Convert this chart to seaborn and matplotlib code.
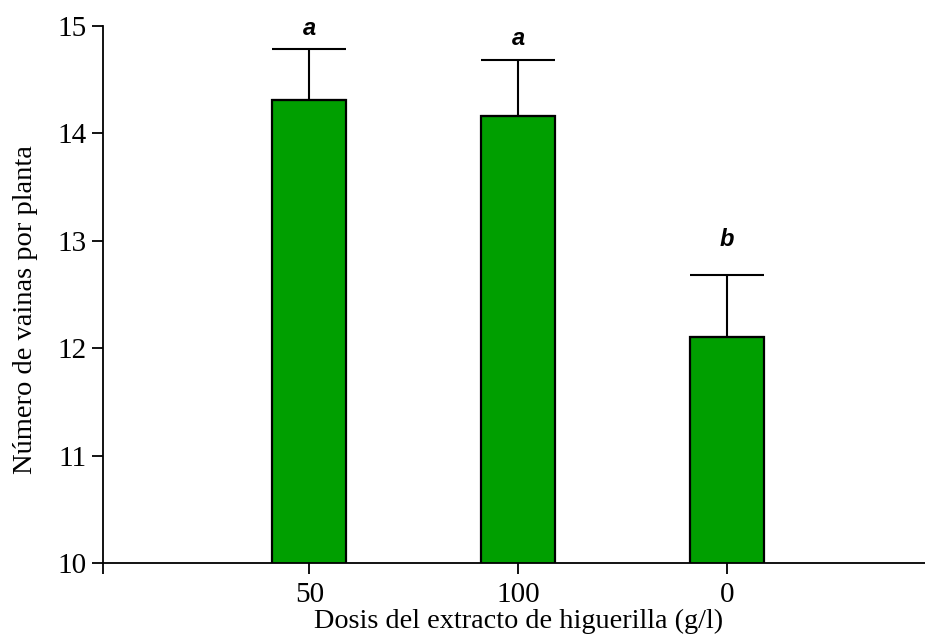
import matplotlib
matplotlib.use("Agg")
import matplotlib.pyplot as plt
import seaborn as sns
import pandas as pd

# Pods per plant by castor-bean extract dose
doses = ["50", "100", "0"]
means = [14.31, 14.16, 12.10]
errors = [0.47, 0.52, 0.58]
letters = ["a", "a", "b"]
letter_y = [14.91, 14.82, 12.95]

sns.set_theme(style="ticks")
plt.rcParams["font.family"] = ["Liberation Serif", "DejaVu Serif"]

df = pd.DataFrame({"dosis": doses, "media": means})

fig = plt.figure(figsize=(9.25, 6.37), dpi=100)
ax = fig.add_axes([0.1114, 0.1162, 0.8886, 0.8435])

sns.barplot(data=df, x="dosis", y="media", order=doses, color="#009f00",
            saturation=1, width=0.355, edgecolor="black", linewidth=1.6,
            errorbar=None, ax=ax)

pos = list(range(len(doses)))
ax.errorbar(pos, means, yerr=[[0] * len(errors), errors], fmt="none",
            ecolor="black", elinewidth=1.5, capsize=26.6, capthick=1.5,
            zorder=1)

for x, lab, ly in zip(pos, letters, letter_y):
    ax.text(x, ly, lab, ha="center", va="baseline", fontsize=17,
            fontweight="bold", fontstyle="italic",
            family=["Liberation Sans", "DejaVu Sans"], color="black")

ax.set_xlim(-0.988, 2.95)
ax.set_ylim(10, 15)
ax.set_yticks([10, 11, 12, 13, 14, 15])
ax.set_xticks([-0.988], minor=True)

ax.set_xlabel("Dosis del extracto de higuerilla (g/l)", fontsize=20.3,
              color="black", va="baseline")
ax.xaxis.set_label_coords(0.505, -0.121)
ax.set_ylabel("Número de vainas por planta", fontsize=20.5, color="black",
              va="baseline")
ax.yaxis.set_label_coords(-0.0864, 0.471)

for side in ["top", "right"]:
    ax.spines[side].set_visible(False)
for side in ["left", "bottom"]:
    ax.spines[side].set_linewidth(1.3)
    ax.spines[side].set_color("black")

ax.tick_params(axis="both", which="both", length=8, width=1.3,
               colors="black", labelsize=21, direction="out", pad=4)
ax.tick_params(axis="x", which="major", pad=6)

fig.savefig("out.png", dpi=100)
